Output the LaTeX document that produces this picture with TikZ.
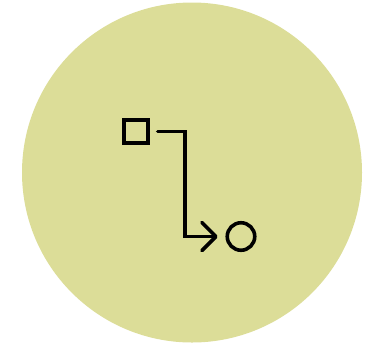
\documentclass[tikz,border=0pt]{standalone}
\usetikzlibrary{arrows.meta}
\definecolor{bgdisc}{RGB}{220,221,152}
\begin{document}
\begin{tikzpicture}[x=1pt,y=-1pt,
  stroke/.style={line width=3.6pt, draw=black},
  sqbox/.style={stroke, rectangle, minimum size=23.5pt, inner sep=0pt, outer sep=0pt},
  cibox/.style={stroke, circle, minimum size=27.5pt, inner sep=0pt, outer sep=0pt},
  flow/.style={stroke, line cap=round, line join=miter,
    -{Straight Barb[length=14pt,width=28pt,round]}, shorten <=10pt, shorten >=9.5pt}]
\useasboundingbox (0,0) rectangle (366,346);
\fill[bgdisc] (192,172.5) circle[radius=170];
\node[sqbox] (sq) at (136,131.5) {};
\node[cibox] (ci) at (241,236.5) {};
\coordinate (bend) at (185,236.5);
\draw[flow] (sq.east) -| (bend) -- (ci.west);
\end{tikzpicture}
\end{document}
